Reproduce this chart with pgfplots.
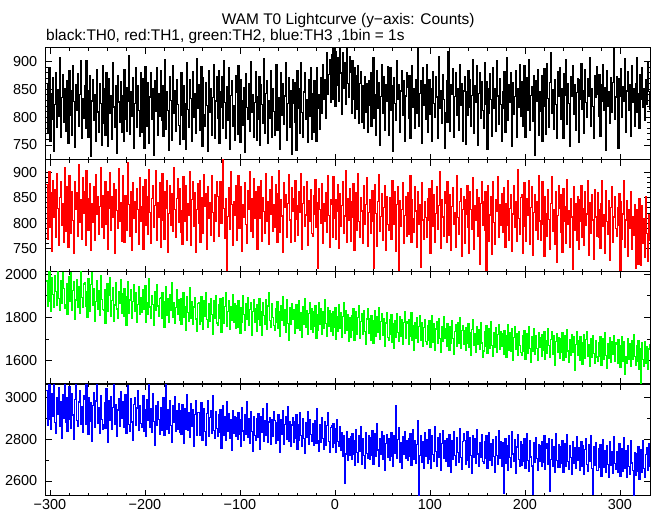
\documentclass[border=0pt]{standalone}
\usepackage{fontspec}
\setmainfont{Liberation Sans}
\usepackage{pgfplots}
\usepackage{pgfplotstable}
\pgfplotsset{compat=1.18}
\definecolor{tgreen}{RGB}{0,255,0}
\definecolor{tred}{RGB}{255,0,0}
\definecolor{tblue}{RGB}{0,0,255}
\begin{document}
\pgfplotstableread[header=false]{
861
772
828
889
756
843
795
870
738
822
880
781
849
801
907
764
835
876
790
852
774
866
819
752
884
803
848
767
893
828
745
859
812
878
783
840
901
761
833
797
856
779
902
814
763
847
875
730
829
868
794
841
756
885
809
772
861
824
750
893
789
851
768
880
823
748
869
806
839
760
897
818
782
856
735
874
827
791
863
772
838
757
885
796
853
775
829
910
769
846
801
871
743
824
889
781
857
812
766
880
772
869
815
743
891
827
784
862
752
836
879
796
851
732
866
810
889
768
843
801
883
794
857
766
829
904
778
845
812
741
873
830
759
892
806
848
774
867
823
785
751
838
879
803
760
856
825
742
897
814
782
868
834
757
881
799
842
771
905
816
859
776
832
891
748
870
805
784
862
821
738
883
809
851
767
835
894
762
829
872
797
884
753
846
818
873
779
902
826
761
855
794
888
742
839
866
783
821
758
874
844
769
892
811
754
867
829
785
853
736
878
817
796
861
775
899
808
841
763
826
881
758
836
795
873
749
859
822
788
905
770
843
866
753
829
797
884
764
852
810
768
853
894
777
835
812
742
879
803
861
786
838
898
759
824
871
781
848
733
867
825
791
862
741
883
816
852
770
897
808
763
845
879
796
831
754
868
802
889
760
842
773
866
801
757
889
815
840
778
871
806
894
832
867
798
915
841
877
903
826
912
831
924
873
819
918
857
906
828
924
879
805
915
851
897
823
924
860
836
908
881
806
902
832
888
797
874
813
893
789
861
881
791
857
780
873
808
860
772
866
821
879
784
853
906
797
841
768
883
815
862
749
837
894
806
873
776
859
828
891
768
846
888
812
857
739
870
825
794
901
831
859
772
847
884
803
866
757
838
879
853
797
874
761
836
893
818
852
779
867
807
924
784
843
866
752
889
821
858
796
894
772
841
868
805
852
756
882
824
799
873
836
762
908
815
847
789
877
831
744
808
865
790
917
829
774
859
841
887
763
837
880
803
852
776
895
821
861
757
847
872
751
846
803
883
818
868
784
839
904
771
856
826
893
749
842
879
797
863
812
779
897
823
864
742
851
806
878
831
766
889
815
852
775
901
838
786
869
823
757
846
816
881
772
835
906
794
859
827
880
748
862
805
837
883
763
851
817
894
801
863
783
829
892
764
848
871
812
903
776
839
855
792
874
731
866
829
886
768
845
811
874
756
843
887
820
769
896
834
781
862
915
806
849
778
868
823
761
881
838
889
795
852
817
762
878
839
903
786
861
824
747
872
837
893
805
858
777
844
869
754
867
831
896
813
848
771
885
826
799
869
838
906
784
852
819
761
875
836
890
841
802
877
765
858
829
894
812
853
741
883
819
846
788
871
809
862
924
795
836
872
816
743
869
838
887
799
855
828
905
773
847
881
812
859
766
893
827
852
784
861
907
808
843
779
876
831
889
817
852
794
868
823
899
846
812
}\thzero
\pgfplotstableread[header=false]{
876
768
843
902
791
859
745
884
812
866
772
897
829
757
851
881
795
838
762
909
783
871
818
752
893
836
779
862
805
740
881
827
859
774
914
801
846
768
889
820
862
757
904
823
785
849
877
746
838
801
871
766
895
817
853
778
833
910
792
854
770
843
881
797
861
748
829
899
785
852
812
877
741
866
825
789
908
803
841
764
894
812
763
855
829
786
918
836
773
862
747
880
809
843
781
867
826
758
889
804
832
871
749
814
886
795
853
778
905
821
761
848
873
792
835
904
766
841
812
879
753
846
897
805
768
861
829
883
742
819
874
796
858
783
910
827
771
849
888
801
868
781
825
759
892
843
804
874
767
838
815
901
756
847
882
793
860
742
826
877
799
884
763
851
817
779
896
832
858
748
871
809
841
775
893
821
764
856
803
882
852
774
838
881
799
861
924
829
770
848
706
813
869
788
902
836
757
843
815
874
767
853
894
789
822
871
745
836
812
879
797
760
863
826
901
784
848
771
887
809
861
794
748
872
836
809
884
765
851
823
779
897
804
842
759
866
818
891
783
837
792
876
829
763
858
903
781
847
814
742
879
831
856
771
838
895
806
762
869
824
849
765
883
807
834
776
862
821
897
748
839
872
793
816
881
757
845
803
866
779
773
854
817
886
792
841
712
868
826
799
877
761
839
803
859
781
893
815
752
847
836
772
891
809
847
768
824
876
751
858
793
835
881
779
814
903
762
849
806
867
765
842
812
878
746
829
859
786
897
803
771
851
824
760
873
798
836
889
754
821
847
779
826
864
803
711
876
819
755
842
895
784
813
858
767
831
874
746
852
798
786
851
812
768
883
829
797
862
745
836
871
708
844
793
826
879
761
815
853
774
859
778
836
893
762
847
809
782
871
824
753
861
797
837
714
880
806
768
842
811
772
848
805
867
741
829
883
794
856
763
819
872
788
835
902
751
846
812
774
861
838
763
881
809
775
856
746
832
869
797
821
752
894
811
778
843
868
734
826
853
760
847
818
873
792
741
862
826
787
889
748
835
806
866
773
851
719
838
881
795
843
786
862
707
829
874
765
816
852
738
881
802
759
846
823
892
771
837
796
858
781
869
813
752
838
796
884
767
829
857
744
818
873
791
842
764
906
809
777
851
857
741
826
879
793
764
848
816
883
759
831
872
737
821
856
785
842
768
893
804
766
842
881
798
735
853
819
774
866
807
748
839
892
783
827
758
861
722
815
873
829
781
857
742
868
804
833
761
886
797
824
753
849
812
709
871
786
838
767
853
748
846
803
873
771
829
756
862
795
818
883
737
841
779
857
806
728
866
812
774
859
772
826
751
839
884
793
817
741
864
803
778
845
726
831
871
763
812
853
789
773
831
796
858
707
842
769
818
883
752
806
845
734
827
789
861
748
813
776
837
711
826
747
718
849
786
716
834
761
808
732
852
779
725
817
764
}\thone
\pgfplotstableread[header=false]{
1968
1852
1941
2010
1874
1829
1983
1907
1846
1995
1921
1858
2010
1889
1831
1972
1866
2008
1934
1843
1861
1957
1812
1938
1989
1872
2005
1834
1923
1966
1790
1881
1974
1847
1941
1818
2010
1893
1845
1955
1962
1849
1918
1801
1979
1875
1826
1951
2006
1857
1933
1784
1872
1969
1838
1926
1810
1994
1883
1836
1834
1927
1771
1891
1955
1826
1903
1982
1807
1879
1940
1780
1858
1961
1839
1795
1921
1866
1973
1818
1912
1803
1935
1847
1762
1898
1966
1821
1881
1929
1796
1874
1953
1830
1917
1777
1859
1944
1815
1893
1823
1928
1839
1893
1947
1776
1871
1812
1979
1848
1797
1903
1861
1765
1921
1834
1950
1853
1804
1889
1894
1797
1913
1828
1752
1874
1942
1809
1886
1779
1906
1835
1960
1802
1869
1771
1847
1929
1816
1881
1787
1885
1766
1863
1917
1801
1851
1740
1896
1823
1782
1937
1798
1874
1767
1848
1892
1793
1734
1866
1871
1769
1840
1896
1782
1747
1879
1807
1913
1792
1756
1862
1783
1887
1815
1723
1876
1798
1901
1775
1763
1861
1798
1885
1730
1833
1893
1772
1852
1917
1757
1826
1878
1744
1849
1786
1906
1777
1864
1750
1857
1755
1877
1803
1726
1846
1776
1899
1812
1739
1864
1791
1893
1764
1838
1871
1718
1829
1884
1777
1843
1735
1861
1789
1889
1762
1829
1717
1867
1811
1770
1881
1746
1853
1914
1785
1752
1866
1799
1763
1741
1843
1779
1873
1749
1826
1714
1856
1787
1895
1762
1835
1729
1882
1771
1696
1847
1766
1862
1789
1835
1727
1813
1858
1751
1841
1876
1740
1822
1707
1849
1768
1886
1755
1830
1722
1819
1868
1746
1843
1731
1827
1759
1856
1705
1814
1741
1871
1766
1839
1720
1826
1748
1883
1773
1713
1847
1761
1830
1735
1817
1716
1829
1754
1847
1698
1802
1737
1861
1749
1821
1706
1805
1869
1727
1834
1740
1813
1689
1799
1709
1807
1740
1842
1696
1788
1825
1721
1799
1854
1703
1781
1817
1720
1831
1735
1678
1793
1840
1726
1795
1694
1810
1736
1681
1787
1833
1712
1804
1729
1845
1700
1782
1817
1716
1794
1667
1775
1821
1707
1696
1792
1721
1814
1687
1770
1659
1784
1707
1820
1729
1691
1803
1713
1788
1676
1776
1829
1702
1779
1774
1676
1789
1711
1824
1693
1764
1647
1776
1702
1799
1684
1758
1811
1695
1778
1666
1753
1792
1690
1674
1762
1695
1787
1661
1753
1809
1686
1770
1650
1747
1781
1679
1796
1702
1637
1759
1688
1804
1705
1751
1665
1770
1692
1647
1757
1679
1786
1703
1630
1734
1765
1668
1777
1682
1799
1657
1740
1763
1676
1740
1646
1753
1679
1774
1661
1732
1627
1745
1789
1670
1726
1641
1759
1676
1744
1653
1777
1682
1615
1645
1736
1667
1761
1632
1723
1747
1656
1780
1671
1619
1729
1663
1754
1638
1720
1765
1652
1734
1666
1727
1630
1741
1662
1617
1716
1765
1649
1732
1643
1747
1604
1707
1758
1654
1726
1625
1737
1671
1639
1626
1715
1644
1739
1608
1703
1727
1634
1760
1657
1592
1710
1645
1749
1631
1718
1656
1603
1732
1661
1707
1619
1720
1646
1737
1605
1694
1633
1751
1672
1616
1699
1734
1628
1715
1581
1690
1727
1637
1706
1611
1704
1637
1729
1600
1692
1716
1618
1744
1645
1593
1699
1627
1722
1639
1710
1556
1676
1736
1624
1693
1602
1711
1628
1585
1685
1722
1609
1698
1737
1620
1677
1576
1701
1615
1717
1633
1590
1694
1618
1597
1686
1619
1710
1581
1673
1701
1605
1728
1624
1567
1680
1612
1705
1593
1691
1628
1718
1599
1682
1675
1587
1696
1616
1569
1670
1712
1598
1687
1536
1621
1590
1703
1608
1679
1576
1693
1605
1719
1620
1581
1672
1597
1695
1562
1658
1497
1683
1606
1574
1689
1589
1667
1561
1655
1678
}\thtwo
\pgfplotstableread[header=false]{
3034
2867
2978
3066
2895
2849
3020
2912
3066
2880
2829
3001
2921
3049
2864
2982
2806
3013
2902
3066
2883
3003
2840
2969
3053
2896
2852
3018
2917
2801
2992
3066
2889
2862
2980
3035
2874
2959
2835
3011
2990
2871
3063
2899
2824
2999
2887
2977
2790
2962
3026
2856
2984
3066
2877
2952
2829
3008
2895
2847
2869
2975
2852
3044
2918
2784
2985
2890
3007
2846
2953
3066
2873
2969
2815
2941
2998
2861
3030
2900
2980
2857
2958
3013
2827
2939
3059
2871
2839
2994
2883
2796
2966
3002
2865
2951
3035
2843
2963
2876
2859
2969
3012
2840
2945
2813
2991
2889
3066
2858
2948
2835
3020
2886
2772
2964
2865
2983
2894
2825
2954
2843
2936
3000
2818
2919
3066
2850
2943
2829
2985
2867
2784
2960
2882
3005
2837
2939
2848
2971
2834
2940
2825
2969
2867
2779
2948
2848
3016
2841
2931
2810
2973
2862
2941
2768
2920
2984
2819
2929
2931
2820
2909
2975
2793
2893
2948
2836
2772
2925
2988
2815
2904
2939
2827
3011
2843
2806
2934
2854
2816
2919
2833
2944
2759
2893
2961
2821
2911
2794
2982
2836
2925
2805
2896
2746
2940
2830
2909
2814
2906
2799
2928
2826
2893
2765
2953
2840
2797
2919
2823
2980
2808
2898
2780
2934
2837
2744
2911
2819
2795
2898
2810
2923
2824
2752
2911
2835
2947
2789
2890
2817
2974
2784
2883
2907
2775
2894
2812
2935
2891
2781
2880
2795
2918
2810
2739
2897
2824
2940
2777
2873
2909
2801
2956
2790
2885
2766
2869
2903
2786
2884
2807
2919
2754
2872
2796
2927
2819
2767
2898
2804
2731
2881
2811
2934
2775
2893
2823
2792
2875
2769
2861
2892
2780
2949
2795
2740
2870
2787
2903
2804
2752
2884
2773
2865
2928
2789
2736
2858
2864
2761
2878
2779
2851
2739
2896
2790
2768
2860
2746
2831
2719
2818
2588
2730
2839
2701
2803
2722
2813
2706
2828
2727
2795
2673
2846
2736
2689
2819
2744
2861
2680
2803
2723
2661
2831
2734
2710
2816
2705
2810
2721
2841
2679
2786
2828
2716
2874
2749
2668
2804
2727
2839
2703
2818
2649
2779
2825
2713
2806
2699
2790
2831
2720
2671
2820
2735
2960
2707
2798
2858
2689
2784
2662
2813
2726
2837
2711
2792
2697
2803
2716
2828
2673
2784
2846
2705
2793
2684
2775
2890
2528
2722
2818
2690
2790
2661
2831
2719
2799
2687
2778
2845
2704
2659
2816
2726
2693
2861
2741
2670
2807
2715
2828
2649
2780
2841
2707
2796
2694
2804
2717
2669
2824
2729
2643
2795
2706
2838
2722
2675
2809
2737
2691
2853
2714
2657
2790
2828
2793
2681
2781
2839
2700
2667
2808
2723
2635
2820
2712
2803
2687
2848
2730
2672
2786
2715
2825
2694
2685
2788
2709
2817
2662
2770
2834
2699
2781
2674
2799
2716
2641
2811
2723
2680
2843
2711
2790
2668
2783
2540
2702
2805
2685
2768
2650
2820
2713
2667
2837
2730
2694
2801
2636
2763
2825
2704
2672
2789
2677
2776
2694
2803
2661
2763
2828
2700
2646
2795
2715
2672
2535
2784
2689
2810
2707
2653
2773
2696
2770
2669
2789
2691
2817
2658
2756
2781
2680
2803
2548
2704
2798
2671
2767
2642
2829
2697
2666
2774
2665
2763
2687
2795
2640
2746
2778
2671
2823
2693
2656
2769
2712
2633
2791
2686
2761
2659
2814
2700
2760
2653
2743
2790
2668
2769
2631
2751
2806
2680
2645
2777
2694
2818
2661
2537
2763
2677
2784
2652
2650
2755
2667
2774
2623
2736
2801
2664
2748
2639
2770
2681
2617
2790
2673
2743
2635
2811
2686
2654
2741
2639
2726
2780
2621
2719
2755
2646
2808
2660
2747
2617
2771
2669
2633
2793
2687
2652
2532
2735
2629
2734
2646
2765
2608
2717
2749
2640
2793
2662
2619
2728
2760
2651
2781
2668
}\ththree
\begin{tikzpicture}
\useasboundingbox (-45.7bp,-19bp) rectangle (606.3bp,496bp);
\pgfplotsset{
  panel/.style={
    at={(0bp,#1)}, anchor=south west,
    scale only axis, width=604.3bp, height=112bp,
    xmin=-304.5, xmax=331.6,
    xtick={-300,-200,-100,0,100,200,300},
    minor x tick num=4,
    xticklabels={},
    tick align=inside,
    major tick length=6bp, minor tick length=3bp,
    every tick/.style={line width=0.8bp, black},
    axis line style={line width=1bp},
    ticklabel style={font=\fontsize{14.5}{14.5}\selectfont},
    yticklabel style={xshift=-5bp},
    /pgf/number format/assume math mode=true,
    /pgf/number format/1000 sep={},
  },
  trace/.style={const plot, line width=1.2bp, #1},
}
\begin{axis}[panel=336bp, ymin=723, ymax=924, ytick={750,800,850,900}, minor y tick num=4]
\addplot[trace=black] table[x expr=\coordindex-304, y index=0] {\thzero};
\end{axis}
\begin{axis}[panel=224bp, ymin=704, ymax=924, ytick={750,800,850,900}, minor y tick num=4]
\addplot[trace=tred] table[x expr=\coordindex-304, y index=0] {\thone};
\end{axis}
\begin{axis}[panel=112bp, ymin=1493, ymax=2010, ytick={1600,1800,2000}, minor y tick num=1]
\addplot[trace=tgreen] table[x expr=\coordindex-304, y index=0] {\thtwo};
\end{axis}
\begin{axis}[panel=0bp, ymin=2528, ymax=3066, ytick={2600,2800,3000}, minor y tick num=1,
  xticklabels={−300,−200,−100,0,100,200,300}]
\addplot[trace=tblue] table[x expr=\coordindex-304, y index=0] {\ththree};
\end{axis}
\node[anchor=base, inner sep=0pt, font=\fontsize{15.5}{15.5}\selectfont] at (302.5bp,471.3bp) {WAM T0 Lightcurve (y−axis: Counts)};
\node[anchor=base west, inner sep=0pt, font=\fontsize{15.5}{15.5}\selectfont] at (0.3bp,455.3bp) {black:TH0, red:TH1, green:TH2, blue:TH3 ,1bin = 1s};
\end{tikzpicture}
\end{document}
